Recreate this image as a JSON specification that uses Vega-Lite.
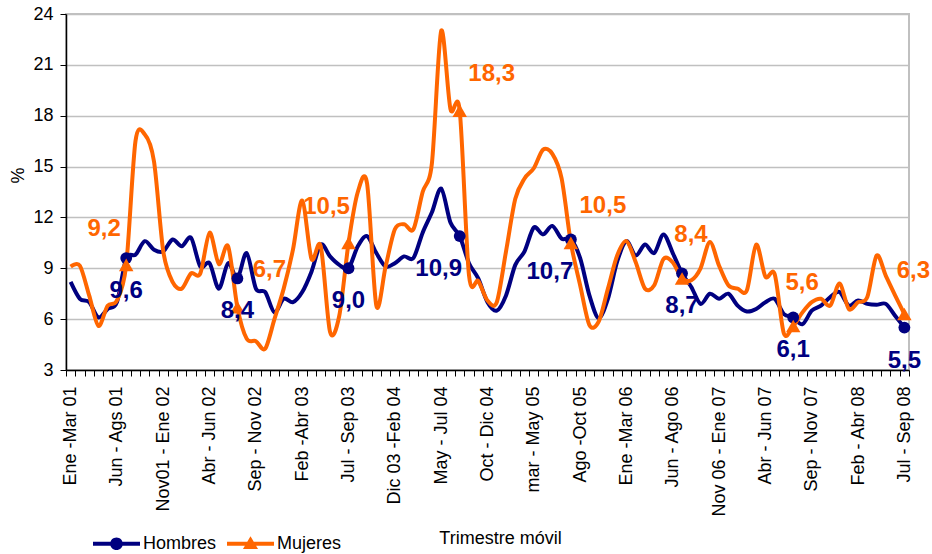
{
  "$schema": "https://vega.github.io/schema/vega-lite/v6.json",
  "autosize": "none",
  "width": 843,
  "height": 356,
  "padding": {"left": 66, "top": 14, "right": 23, "bottom": 184},
  "background": "white",
  "config": {
    "locale": {"number": {"decimal": ",", "thousands": ".", "grouping": [3], "currency": ["", " €"]}},
    "view": {"stroke": "#c0c0c0", "strokeWidth": 2},
    "font": "Liberation Sans"
  },
  "data": {
    "values": [
      {"i":0,"Hombres":8.2,"Mujeres":9.1},{"i":1,"Hombres":7.2,"Mujeres":9.15},{"i":2,"Hombres":7.0,"Mujeres":7.4},{"i":3,"Hombres":6.1,"Mujeres":5.6},{"i":4,"Hombres":6.6,"Mujeres":6.8},
      {"i":5,"Hombres":7.0,"Mujeres":7.1},{"i":6,"Hombres":9.6,"Mujeres":9.2},{"i":7,"Hombres":9.8,"Mujeres":16.5},{"i":8,"Hombres":10.6,"Mujeres":16.9},{"i":9,"Hombres":10.1,"Mujeres":15.3},
      {"i":10,"Hombres":10.0,"Mujeres":10.0},{"i":11,"Hombres":10.7,"Mujeres":8.2},{"i":12,"Hombres":10.3,"Mujeres":7.8},{"i":13,"Hombres":10.8,"Mujeres":8.7},{"i":14,"Hombres":9.1,"Mujeres":8.7},
      {"i":15,"Hombres":9.3,"Mujeres":11.1},{"i":16,"Hombres":7.8,"Mujeres":9.25},{"i":17,"Hombres":9.3,"Mujeres":10.3},{"i":18,"Hombres":8.4,"Mujeres":6.7},{"i":19,"Hombres":9.9,"Mujeres":4.85},
      {"i":20,"Hombres":7.8,"Mujeres":4.7},{"i":21,"Hombres":7.6,"Mujeres":4.25},{"i":22,"Hombres":6.4,"Mujeres":6.0},{"i":23,"Hombres":7.2,"Mujeres":7.8},{"i":24,"Hombres":7.0,"Mujeres":10.1},
      {"i":25,"Hombres":7.6,"Mujeres":13.0},{"i":26,"Hombres":8.8,"Mujeres":9.55},{"i":27,"Hombres":10.4,"Mujeres":10.3},{"i":28,"Hombres":9.7,"Mujeres":5.25},{"i":29,"Hombres":9.2,"Mujeres":6.2},
      {"i":30,"Hombres":9.0,"Mujeres":10.5},{"i":31,"Hombres":10.3,"Mujeres":13.5},{"i":32,"Hombres":10.9,"Mujeres":14.0},{"i":33,"Hombres":9.9,"Mujeres":6.8},{"i":34,"Hombres":9.1,"Mujeres":9.1},
      {"i":35,"Hombres":9.3,"Mujeres":11.3},{"i":36,"Hombres":9.7,"Mujeres":11.6},{"i":37,"Hombres":9.6,"Mujeres":11.3},{"i":38,"Hombres":11.1,"Mujeres":13.5},{"i":39,"Hombres":12.3,"Mujeres":15.2},
      {"i":40,"Hombres":13.7,"Mujeres":23.0},{"i":41,"Hombres":11.7,"Mujeres":18.4},{"i":42,"Hombres":10.9,"Mujeres":18.3},{"i":43,"Hombres":9.3,"Mujeres":8.6},{"i":44,"Hombres":8.4,"Mujeres":8.25},
      {"i":45,"Hombres":7.0,"Mujeres":7.1},{"i":46,"Hombres":6.5,"Mujeres":7.0},{"i":47,"Hombres":7.4,"Mujeres":10.0},{"i":48,"Hombres":9.2,"Mujeres":13.1},{"i":49,"Hombres":10.0,"Mujeres":14.3},
      {"i":50,"Hombres":11.4,"Mujeres":14.9},{"i":51,"Hombres":11.0,"Mujeres":16.0},{"i":52,"Hombres":11.5,"Mujeres":15.75},{"i":53,"Hombres":10.75,"Mujeres":14.3},{"i":54,"Hombres":10.7,"Mujeres":10.5},
      {"i":55,"Hombres":9.6,"Mujeres":8.0},{"i":56,"Hombres":7.4,"Mujeres":5.65},{"i":57,"Hombres":6.05,"Mujeres":5.85},{"i":58,"Hombres":7.2,"Mujeres":7.8},{"i":59,"Hombres":9.4,"Mujeres":9.75},
      {"i":60,"Hombres":10.6,"Mujeres":10.6},{"i":61,"Hombres":9.75,"Mujeres":9.35},{"i":62,"Hombres":10.4,"Mujeres":7.8},{"i":63,"Hombres":9.9,"Mujeres":8.0},{"i":64,"Hombres":11.0,"Mujeres":9.55},
      {"i":65,"Hombres":9.9,"Mujeres":9.35},{"i":66,"Hombres":8.7,"Mujeres":8.4},{"i":67,"Hombres":7.9,"Mujeres":8.3},{"i":68,"Hombres":6.9,"Mujeres":9.0},{"i":69,"Hombres":7.5,"Mujeres":10.55},
      {"i":70,"Hombres":7.2,"Mujeres":9.15},{"i":71,"Hombres":7.5,"Mujeres":8.0},{"i":72,"Hombres":6.8,"Mujeres":7.8},{"i":73,"Hombres":6.45,"Mujeres":7.7},{"i":74,"Hombres":6.6,"Mujeres":10.4},
      {"i":75,"Hombres":7.0,"Mujeres":8.5},{"i":76,"Hombres":7.2,"Mujeres":8.65},{"i":77,"Hombres":6.3,"Mujeres":5.15},{"i":78,"Hombres":6.1,"Mujeres":5.6},{"i":79,"Hombres":5.7,"Mujeres":6.4},
      {"i":80,"Hombres":6.5,"Mujeres":7.0},{"i":81,"Hombres":6.8,"Mujeres":7.2},{"i":82,"Hombres":7.3,"Mujeres":6.8},{"i":83,"Hombres":7.6,"Mujeres":8.1},{"i":84,"Hombres":6.8,"Mujeres":6.6},
      {"i":85,"Hombres":7.1,"Mujeres":7.0},{"i":86,"Hombres":6.9,"Mujeres":7.3},{"i":87,"Hombres":6.85,"Mujeres":9.75},{"i":88,"Hombres":6.9,"Mujeres":8.55},{"i":89,"Hombres":6.2,"Mujeres":7.4},
      {"i":90,"Hombres":5.5,"Mujeres":6.3}
    ]
  },
  "transform": [{"fold": ["Hombres", "Mujeres"], "as": ["serie", "valor"]}],
  "encoding": {
    "x": {
      "field": "i", "type": "quantitative",
      "scale": {"domain": [-0.5, 90.5], "nice": false, "zero": false},
      "axis": {
        "title": "Trimestre móvil",
        "titleFont": "Liberation Sans", "titleFontSize": 18, "titleFontWeight": "normal", "titleColor": "black",
        "titleX": 434, "titleY": 168, "titleBaseline": "middle", "titleAlign": "center",
        "values": [-0.5,0.5,1.5,2.5,3.5,4.5,5.5,6.5,7.5,8.5,9.5,10.5,11.5,12.5,13.5,14.5,15.5,16.5,17.5,18.5,19.5,20.5,21.5,22.5,23.5,24.5,25.5,26.5,27.5,28.5,29.5,30.5,31.5,32.5,33.5,34.5,35.5,36.5,37.5,38.5,39.5,40.5,41.5,42.5,43.5,44.5,45.5,46.5,47.5,48.5,49.5,50.5,51.5,52.5,53.5,54.5,55.5,56.5,57.5,58.5,59.5,60.5,61.5,62.5,63.5,64.5,65.5,66.5,67.5,68.5,69.5,70.5,71.5,72.5,73.5,74.5,75.5,76.5,77.5,78.5,79.5,80.5,81.5,82.5,83.5,84.5,85.5,86.5,87.5,88.5,89.5,90.5,0,5,10,15,20,25,30,35,40,45,50,55,60,65,70,75,80,85,90],
        "labelExpr": "datum.value % 5 === 0 ? ['Ene -Mar 01','Jun - Ags 01','Nov01 - Ene 02','Abr - Jun 02','Sep - Nov 02','Feb -Abr 03','Jul - Sep 03','Dic 03 -Feb 04','May - Jul 04','Oct - Dic 04','mar - May 05','Ago -Oct 05','Ene -Mar 06','Jun - Ago 06','Nov 06 - Ene 07','Abr - Jun 07','Sep - Nov 07','Feb - Abr 08','Jul - Sep 08'][datum.value / 5] : ''",
        "labelAngle": -90, "labelFont": "Liberation Sans", "labelFontSize": 18, "labelColor": "black",
        "labelOverlap": false, "labelFlush": false, "labelBound": false, "labelPadding": 10,
        "tickSize": 6, "tickColor": "black", "tickWidth": 1,
        "tickOpacity": {"condition": {"test": "datum.value % 1 === 0", "value": 0}, "value": 1},
        "domainColor": "black", "domainWidth": 1.5, "grid": false
      }
    },
    "y": {
      "field": "valor", "type": "quantitative",
      "scale": {"domain": [3, 24], "nice": false, "zero": false},
      "axis": {
        "title": "%", "titleFont": "Liberation Sans", "titleFontSize": 18, "titleFontWeight": "normal", "titleColor": "black",
        "titleX": -48, "titleY": 161, "titleAlign": "center", "titleBaseline": "middle", "titleAngle": -90,
        "values": [3, 6, 9, 12, 15, 18, 21, 24],
        "labelFont": "Liberation Sans", "labelFontSize": 18, "labelColor": "black", "labelPadding": 7,
        "tickSize": 6, "tickColor": "black", "domainColor": "black", "domainWidth": 1.5,
        "grid": true, "gridColor": "#c0c0c0", "gridWidth": 1.5
      }
    }
  },
  "layer": [
    {
      "mark": {"type": "line", "interpolate": "cardinal", "tension": 0.1, "strokeWidth": 4},
      "encoding": {
        "color": {
          "field": "serie", "type": "nominal",
          "scale": {"domain": ["Hombres", "Mujeres"], "range": ["#000080", "#FF6600"]},
          "legend": {
            "title": null, "orient": "none", "direction": "horizontal", "legendX": 27, "legendY": 506,
            "padding": 0, "columnPadding": 10, "labelOffset": 3, "symbolSize": 2209,
            "labelFont": "Liberation Sans", "labelFontSize": 18, "labelColor": "black",
            "encode": {
              "symbols": {
                "update": {
                  "shape": {"signal": "datum.value === 'Hombres' ? 'M-1,-0.085H1V0.085H-1Z M0.27,0A0.27,0.27 0 1,1 -0.27,0A0.27,0.27 0 1,1 0.27,0Z' : 'M-1,-0.085H1V0.085H-1Z M0,-0.32L0.32,0.22H-0.32Z'"},
                  "fill": {"signal": "datum.value === 'Hombres' ? '#000080' : '#FF6600'"},
                  "stroke": {"value": "transparent"},
                  "strokeWidth": {"value": 0},
                  "opacity": {"value": 1},
                  "fillOpacity": {"value": 1}
                }
              }
            }
          }
        }
      }
    },
    {
      "transform": [{"filter": "datum.serie === 'Hombres' && datum.i % 12 === 6"}],
      "mark": {"type": "point", "shape": "circle", "filled": true, "opacity": 1, "size": 140},
      "encoding": {"color": {"field": "serie", "type": "nominal", "legend": null}}
    },
    {
      "transform": [{"filter": "datum.serie === 'Mujeres' && datum.i % 12 === 6"}],
      "mark": {"type": "point", "shape": "triangle-up", "filled": true, "opacity": 1, "size": 210},
      "encoding": {"color": {"field": "serie", "type": "nominal", "legend": null}}
    },
    {
      "transform": [{"filter": "datum.serie === 'Hombres' && indexof([6,18,30,66,78,90], datum.i) >= 0"}],
      "mark": {"type": "text", "font": "Liberation Sans", "fontSize": 24, "fontWeight": "bold", "dx": 0, "dy": 33, "baseline": "middle", "align": "center"},
      "encoding": {"text": {"field": "valor", "type": "quantitative", "format": ".1f"}, "color": {"field": "serie", "type": "nominal", "legend": null}}
    },
    {
      "transform": [{"filter": "datum.serie === 'Hombres' && indexof([42,54], datum.i) >= 0"}],
      "mark": {"type": "text", "font": "Liberation Sans", "fontSize": 24, "fontWeight": "bold", "dx": -21, "dy": 33, "baseline": "middle", "align": "center"},
      "encoding": {"text": {"field": "valor", "type": "quantitative", "format": ".1f"}, "color": {"field": "serie", "type": "nominal", "legend": null}}
    },
    {
      "transform": [{"filter": "datum.serie === 'Mujeres' && indexof([6,30], datum.i) >= 0"}],
      "mark": {"type": "text", "font": "Liberation Sans", "fontSize": 24, "fontWeight": "bold", "dx": -22, "dy": -36, "baseline": "middle", "align": "center"},
      "encoding": {"text": {"field": "valor", "type": "quantitative", "format": ".1f"}, "color": {"field": "serie", "type": "nominal", "legend": null}}
    },
    {
      "transform": [{"filter": "datum.serie === 'Mujeres' && indexof([18,42,54], datum.i) >= 0"}],
      "mark": {"type": "text", "font": "Liberation Sans", "fontSize": 24, "fontWeight": "bold", "dx": 32, "dy": -37, "baseline": "middle", "align": "center"},
      "encoding": {"text": {"field": "valor", "type": "quantitative", "format": ".1f"}, "color": {"field": "serie", "type": "nominal", "legend": null}}
    },
    {
      "transform": [{"filter": "datum.serie === 'Mujeres' && indexof([66,78,90], datum.i) >= 0"}],
      "mark": {"type": "text", "font": "Liberation Sans", "fontSize": 24, "fontWeight": "bold", "dx": 9, "dy": -43, "baseline": "middle", "align": "center"},
      "encoding": {"text": {"field": "valor", "type": "quantitative", "format": ".1f"}, "color": {"field": "serie", "type": "nominal", "legend": null}}
    }
  ]
}
